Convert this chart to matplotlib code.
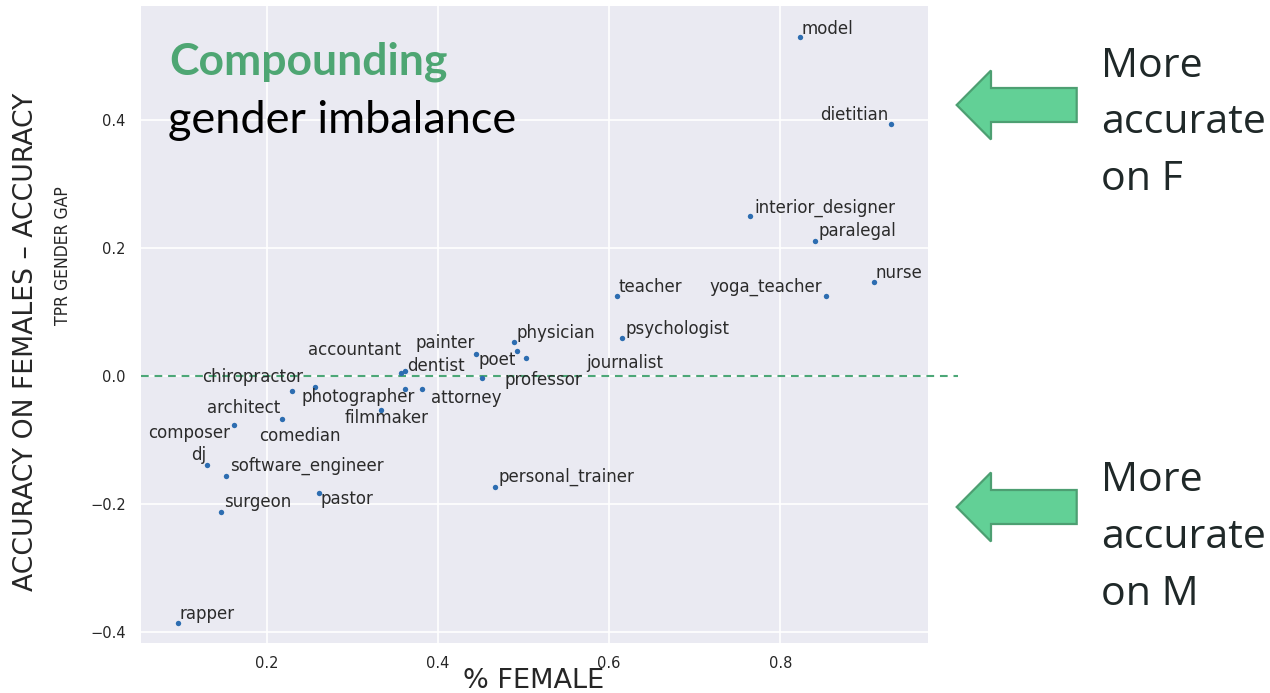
import matplotlib
matplotlib.use("Agg")
import matplotlib.pyplot as plt
from matplotlib.patches import Polygon

# ---------------- data ----------------
occupations = ["model", "dietitian", "interior_designer", "paralegal", "nurse",
               "yoga_teacher", "teacher", "psychologist", "physician", "poet",
               "journalist", "painter", "accountant", "dentist", "professor",
               "chiropractor", "architect", "photographer", "attorney", "filmmaker",
               "comedian", "composer", "dj", "software_engineer", "pastor",
               "personal_trainer", "surgeon", "rapper"]
pct_female = [0.823, 0.929, 0.765, 0.841, 0.909,
              0.853, 0.609, 0.615, 0.489, 0.492,
              0.503, 0.445, 0.357, 0.361, 0.451,
              0.256, 0.229, 0.362, 0.381, 0.334,
              0.218, 0.162, 0.130, 0.152, 0.261,
              0.467, 0.147, 0.096]
tpr_gap = [0.530, 0.395, 0.250, 0.212, 0.147,
           0.125, 0.125, 0.059, 0.053, 0.040,
           0.029, 0.034, 0.005, 0.008, -0.003,
           -0.017, -0.024, -0.020, -0.020, -0.053,
           -0.067, -0.077, -0.139, -0.156, -0.183,
           -0.174, -0.213, -0.386]
x_ticks = [0.2, 0.4, 0.6, 0.8]
y_ticks = [-0.4, -0.2, 0.0, 0.2, 0.4]

# ---------------- layout (label offsets in pixels, alignment) ----------------
LABEL_OFFSETS = {
    "model": ("left", 2, 3.4), "dietitian": ("right", -2.4, 3.7),
    "interior_designer": ("left", 4, 4), "paralegal": ("left", 2.7, 5),
    "nurse": ("left", 1.7, 3.7), "yoga_teacher": ("right", -3.6, 4),
    "teacher": ("left", 2, 4), "psychologist": ("left", 3.3, 4.3),
    "physician": ("left", 2.7, 4), "poet": ("right", -0.3, -14),
    "journalist": ("left", 60, -10.4), "painter": ("right", -1.7, 6.4),
    "accountant": ("right", -0.3, 17.7), "dentist": ("left", 2.4, 0.3),
    "professor": ("left", 23, -6.7), "chiropractor": ("right", -11.7, 5.3),
    "architect": ("right", -11.7, -21.4), "photographer": ("right", 9, -12.7),
    "attorney": ("left", 9.3, -14.3), "filmmaker": ("center", 5.2, -12.6),
    "comedian": ("center", 17.5, -21.7), "composer": ("right", -4, -12.3),
    "dj": ("right", -1, 5), "software_engineer": ("left", 4.7, 4.7),
    "pastor": ("left", 1.6, -11.3), "personal_trainer": ("left", 3.7, 5.6),
    "surgeon": ("left", 3, 5), "rapper": ("left", 2, 4),
}

W, H = 1270, 693
def fx(px):
    return px / W
def fy(py):
    return 1 - py / H

fig = plt.figure(figsize=(12.7, 6.93), dpi=100)
fig.patch.set_facecolor("white")
ax = fig.add_axes([fx(140.7), fy(643.3), fx(928.3) - fx(140.7), fy(6) - fy(643.3)])
ax.set_facecolor("#EAEAF2")
for s in ax.spines.values():
    s.set_visible(False)
ax.set_axisbelow(True)
ax.grid(True, color="white", linewidth=1.2)
ax.set_xlim(0.0527, 0.9730)
ax.set_ylim(-0.418, 0.579)
ax.set_xticks(x_ticks)
ax.set_yticks(y_ticks)
ax.tick_params(length=0, labelsize=10.5, labelcolor="#262626")
ax.tick_params(axis="x", pad=9.0)
ax.tick_params(axis="y", pad=10.8)

ax.axhline(0, xmin=0, xmax=1.038, color="#4CA777", lw=1.5,
           linestyle=(0, (3.7, 2.8)), clip_on=False, zorder=2)

ax.scatter(pct_female, tpr_gap, s=15, color="#2D6DB1", zorder=3, linewidths=0)

for name, x, y in zip(occupations, pct_female, tpr_gap):
    ha, dx, dy = LABEL_OFFSETS[name]
    ax.annotate(name, (x, y), xytext=(dx, dy), textcoords="offset pixels",
                ha=ha, va="baseline", fontsize=12, color="#2b2b2b", zorder=4)

# ---------------- slide overlay text ----------------
fig.text(fx(169), fy(75), "Compounding", fontsize=32, fontweight="bold",
         family=["Lato", "DejaVu Sans"], color="#4EA673", ha="left", va="baseline")
fig.text(fx(168), fy(133.3), "gender imbalance", fontsize=32.5,
         family=["Lato", "DejaVu Sans"], color="black", ha="left", va="baseline")

fig.text(fx(534), fy(688.3), "% FEMALE", fontsize=19.5, family=["DejaVu Sans"],
         color="#262626", ha="center", va="baseline")
fig.text(fx(33), fy(342), "ACCURACY ON FEMALES \u2013 ACCURACY", fontsize=19.2,
         family=["DejaVu Sans"], color="#262626", rotation=90,
         rotation_mode="anchor", ha="center", va="baseline")
fig.text(fx(68), fy(255.8), "TPR GENDER GAP", fontsize=12.6,
         family=["DejaVu Sans Condensed", "DejaVu Sans"], fontstretch="condensed",
         color="#262626", rotation=90,
         rotation_mode="anchor", ha="center", va="baseline")

def arrow(tip_x, tip_y):
    head_back, shaft_end, head_half, shaft_half = 991, 1076.7, 34.5, 17
    pts = [(tip_x, tip_y), (head_back, tip_y - head_half), (head_back, tip_y - shaft_half),
           (shaft_end, tip_y - shaft_half), (shaft_end, tip_y + shaft_half),
           (head_back, tip_y + shaft_half), (head_back, tip_y + head_half)]
    poly = Polygon([(fx(a), fy(b)) for a, b in pts], closed=True,
                   transform=fig.transFigure, facecolor="#62D096",
                   edgecolor="#4D9F72", linewidth=1.6)
    fig.add_artist(poly)

arrow(956.7, 105)
arrow(956.7, 507)

for lines, baselines in ((["More", "accurate", "on F"], [77, 133, 190]),
                         (["More", "accurate", "on M"], [491, 548, 605])):
    for t, b in zip(lines, baselines):
        fig.text(fx(1100.7), fy(b), t, fontsize=29.6, family=["Open Sans", "DejaVu Sans"],
                 color="#1f2828", ha="left", va="baseline")

fig.savefig("out.png", dpi=100)
